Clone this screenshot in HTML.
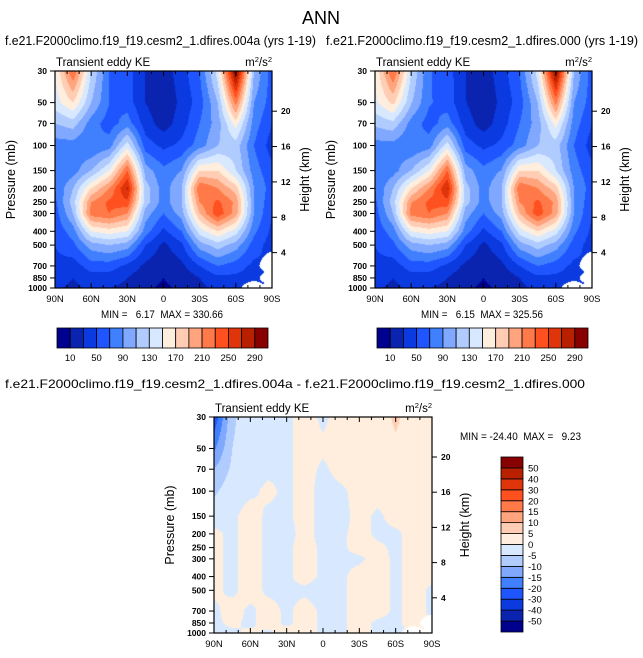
<!DOCTYPE html>
<html><head><meta charset="utf-8">
<style>
body{margin:0;background:#fff;}
#root{position:relative;width:643px;height:658px;overflow:hidden;background:#fff;font-family:"Liberation Sans",sans-serif;}
canvas{position:absolute;}
svg{position:absolute;left:0;top:0;}
text{white-space:pre;}
</style></head>
<body>
<div id="root">
<canvas id="cA" width="217" height="217" style="left:55px;top:71px"></canvas>
<canvas id="cB" width="217" height="217" style="left:375px;top:71px"></canvas>
<canvas id="cD" width="218" height="216" style="left:214px;top:417px"></canvas>
<svg id="svg" width="643" height="658" xml:space="preserve"></svg>
</div>
<script>
const lats=[90,75,60,45,30,15,0,-15,-30,-45,-60,-75,-90];
const levels=[30,50,70,100,150,200,250,300,400,500,700,850,1000];
const keLevels=[10,30,50,70,90,110,130,150,170,190,210,230,250,270,290];
const keLabels=["10","50","90","130","170","210","250","290"];
const diffLevels=[-50,-40,-30,-20,-15,-10,-5,0,5,10,15,20,30,40,50];
const pTicks=[30,50,70,100,150,200,250,300,400,500,700,850,1000];
const hTicks=[4,8,12,16,20];
const latTickLabels=["90N","60N","30N","0","30S","60S","90S"];
const keA=[
[150,230,130,70,60,30,20,40,70,140,310,110,60],
[140,170,110,70,60,30,15,35,60,110,220,90,60],
[110,120,80,60,80,40,20,40,70,100,160,80,50],
[80,80,70,80,140,60,45,55,80,110,120,70,40],
[70,80,110,150,230,100,75,90,170,170,130,80,55],
[70,110,170,210,275,120,80,110,230,210,180,90,60],
[65,120,210,235,245,120,80,110,210,235,205,90,55],
[60,110,220,230,210,100,70,100,190,245,200,90,50],
[55,80,150,160,150,80,45,70,140,170,140,75,45],
[50,65,100,110,100,50,25,45,100,120,100,60,40],
[45,40,60,60,45,25,15,25,50,70,60,45,null],
[40,30,40,40,30,15,10,15,30,45,45,40,null],
[35,25,35,30,25,12,8,12,25,35,30,null,null]];
const keB=[
[152,232,131,72,60,30,20,40,70,140,305,110,60],
[145,175,112,72,61,31,15,35,60,110,218,90,60],
[115,124,82,61,80,40,20,40,70,100,158,80,50],
[82,82,71,80,140,60,45,55,80,110,120,70,40],
[71,81,110,150,230,100,76,91,170,170,130,80,55],
[70,110,169,211,272,119,81,110,229,210,180,90,60],
[65,120,209,235,243,119,80,110,210,235,205,90,55],
[60,110,219,230,210,100,70,100,190,243,200,90,50],
[55,80,150,160,150,80,45,70,140,170,140,75,45],
[50,65,100,110,100,50,25,45,100,120,100,60,40],
[45,40,60,60,45,25,15,25,50,70,60,45,null],
[40,30,40,40,30,15,10,15,30,45,45,40,null],
[35,25,35,30,25,12,8,12,25,35,30,null,null]];
const keDiff=[
[-24,-6,-2,-2,-1,2,-1,2,2,2,6,2,2],
[-16,-5,-2,-2,-1,2,1,2,2,2,4,2,2],
[-10,-4,-2,-1,-1,2,-1,2,2,2,2,2,2],
[-6,-2,-1,1,-1,2,-2,-1,2,2,2,2,2],
[-2,-1,2,-1,-1,2,-2,-2,2,-1,2,2,1],
[1,-1,2,-1,-2,2,-2,-1,2,-1,-1,2,1],
[1,-1,2,-1,-1,2,-1,-1,2,1,-1,2,1],
[1,-1,2,-1,-1,2,-1,-1,-1,2,-1,2,1],
[1,-1,2,-1,-1,2,-1,-1,2,2,-1,2,1],
[1,-1,2,-1,-1,-1,-2,-1,2,2,-1,2,-1],
[-1,2,-1,2,-1,2,-1,-1,2,2,-1,2,-1],
[-1,1,-1,2,-1,2,-1,-1,2,-1,-1,2,null],
[-1,-1,1,-1,2,2,-1,-1,2,-1,-1,null,null]];
const palette=["#00008f","#0a24b0","#0a3ae0","#1f55ff","#4080ff","#80a8ff","#b0ccff","#d8e9ff","#ffeedd","#ffcdb4","#ffa47c","#ff7a48","#ff5020","#e0340a","#b82000","#880000"];

const NS="http://www.w3.org/2000/svg";
const svg=document.getElementById('svg');
function el(tag,attrs,parent){const e=document.createElementNS(NS,tag);for(const k in attrs)e.setAttribute(k,attrs[k]);(parent||svg).appendChild(e);return e;}
function txt(x,y,s,size,anchor,parent,extra){const t=el('text',Object.assign({x:x,y:y,'font-size':size,'text-anchor':anchor||'start','font-family':'Liberation Sans, sans-serif',fill:'#000'},extra||{}),parent);t.textContent=s;return t;}

function yOfP(p,top,h){return top+h*Math.log(p/30)/Math.log(1000/30);}
function xOfLat(l,left,w){return left+w*(90-l)/180;}
function zOfKm(km){return 1000*Math.exp(-km/7);}

function colorIdx(v,lv){let i=0;while(i<lv.length&&v>=lv[i])i++;return i;}
function sample(grid,lat,p){
  let fx=(90-lat)/15;let i=Math.min(11,Math.floor(fx));let tx=fx-i;
  const lp=Math.log(p);let j=0;while(j<levels.length-2&&Math.log(levels[j+1])<lp)j++;
  let ty=(lp-Math.log(levels[j]))/(Math.log(levels[j+1])-Math.log(levels[j]));
  ty=Math.max(0,Math.min(1,ty));
  const a=grid[j][i],b=grid[j][i+1],c=grid[j+1][i],d=grid[j+1][i+1];
  const vals=[[a,(1-tx)*(1-ty)],[b,tx*(1-ty)],[c,(1-tx)*ty],[d,tx*ty]];
  let s=0,w=0;for(const [v,wt] of vals){if(v===null){if(wt>0.3)return null;continue;}s+=v*wt;w+=wt;}
  return w>0?s/w:null;
}
function drawField(id,grid,lv){
  const c=document.getElementById(id);const ctx=c.getContext('2d');const W=c.width,H=c.height;
  const img=ctx.createImageData(W,H);
  for(let y=0;y<H;y++){const p=30*Math.exp((y+0.5)/H*Math.log(1000/30));
    for(let x=0;x<W;x++){const lat=90-(x+0.5)/W*180;const v=sample(grid,lat,p);
      const k=(y*W+x)*4;let col=[255,255,255];
      if(v!==null){const h=palette[colorIdx(v,lv)];col=[parseInt(h.substr(1,2),16),parseInt(h.substr(3,2),16),parseInt(h.substr(5,2),16)];}
      img.data[k]=col[0];img.data[k+1]=col[1];img.data[k+2]=col[2];img.data[k+3]=255;}}
  ctx.putImageData(img,0,0);
}
drawField('cA',keA,keLevels);
drawField('cB',keB,keLevels);
drawField('cD',keDiff,diffLevels);

function axes(left,top,w,h,name){
  const g=el('g',{},svg);
  
  
  el('rect',{x:left,y:top,width:w,height:h,fill:'none',stroke:'#000','stroke-width':1.2},g);
  for(let l=90;l>=-90;l-=10){const x=xOfLat(l,left,w);const major=(l%30===0);const L=major?5:3;
    el('line',{x1:x,y1:top,x2:x,y2:top+L,stroke:'#000','stroke-width':1},g);
    el('line',{x1:x,y1:top+h,x2:x,y2:top+h-L,stroke:'#000','stroke-width':1},g);}
  latTickLabels.forEach((s,i)=>{const l=90-30*i;const t=txt(xOfLat(l,left,w),top+h+14,s,9.5,'middle',g);});
  pTicks.forEach(p=>{const y=yOfP(p,top,h);el('line',{x1:left-5,y1:y,x2:left,y2:y,stroke:'#000'},g);
    const t=txt(left-8,y+3,String(p),8.5,'end',g,{'font-weight':'bold'});});
  hTicks.forEach(km=>{const y=yOfP(zOfKm(km),top,h);el('line',{x1:left+w,y1:y,x2:left+w+5,y2:y,stroke:'#000'},g);
    const t=txt(left+w+9,y+3,String(km),8.5,'start',g,{'font-weight':'bold'});});
  const yl=txt(0,0,'Pressure (mb)',12.5,'middle',g,{transform:`translate(${left-40},${top+h/2}) rotate(-90)`});
  
  const hl=txt(0,0,'Height (km)',12.5,'middle',g,{transform:`translate(${left+w+37},${top+h/2}) rotate(-90)`});
  
  const tt=txt(left+1,top-5,'Transient eddy KE',11.5,'start',g);
  
  const u=el('text',{x:left+w,y:top-5,'font-size':11.5,'text-anchor':'end','font-family':'Liberation Sans, sans-serif'},g);
  
  u.innerHTML='m<tspan dy="-4" font-size="7.5">2</tspan><tspan dy="4">/s</tspan><tspan dy="-4" font-size="7.5">2</tspan>';
}
axes(55,71,217,217,'axes-run-004a');
axes(375,71,217,217,'axes-run-000');
axes(214,417,218,216,'axes-difference');

function hbar(left,top,w,h,name){
  const g=el('g',{},svg);
  const n=palette.length,bw=w/n;
  palette.forEach((c,i)=>{const r=el('rect',{x:left+i*bw,y:top,width:bw,height:h,fill:c,stroke:'#000','stroke-width':0.8},g);});
  keLabels.forEach((s,i)=>{const t=txt(left+(1+2*i)*bw,top+h+13,s,9.5,'middle',g);});
}
hbar(57,328,211,20,'colorbar-top-left');
hbar(377,328,211,20,'colorbar-top-right');
(function(){
  const g=el('g',{},svg);
  const left=501,top=457,w=22,h=175,n=palette.length,bh=h/n;
  palette.forEach((c,i)=>{const r=el('rect',{x:left,y:top+h-(i+1)*bh,width:w,height:bh,fill:c,stroke:'#000','stroke-width':0.8},g);});
  diffLevels.forEach((v,i)=>{const t=txt(left+w+5,top+h-(i+1)*bh+3.5,String(v),9.5,'start',g);});
})();

function label(x,y,s,size,anchor,name,len){const t=txt(x,y,s,size,anchor);if(len){t.setAttribute('textLength',len);t.setAttribute('lengthAdjust','spacingAndGlyphs');}}
label(321,24,'ANN',18,'middle','figure-title');
label(5,45,'f.e21.F2000climo.f19_f19.cesm2_1.dfires.004a (yrs 1-19)',12.5,'start','subtitle-run-004a',311);
label(326,45,'f.e21.F2000climo.f19_f19.cesm2_1.dfires.000 (yrs 1-19)',12.5,'start','subtitle-run-000',312);
label(5,388,'f.e21.F2000climo.f19_f19.cesm2_1.dfires.004a - f.e21.F2000climo.f19_f19.cesm2_1.dfires.000',12,'start','subtitle-difference',580);
label(101,318,'MIN =   6.17  MAX = 330.66',11,'start','minmax-run-004a',122);
label(421,318,'MIN =   6.15  MAX = 325.56',11,'start','minmax-run-000',122);
label(460,440,'MIN = -24.40  MAX =   9.23',11,'start','minmax-difference',121);
</script>
</body></html>
